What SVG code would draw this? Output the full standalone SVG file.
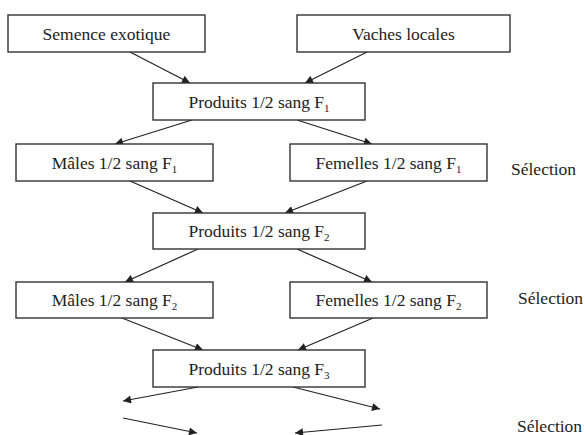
<svg xmlns="http://www.w3.org/2000/svg" width="585" height="435" viewBox="0 0 585 435">
<style>
.box{fill:#fff;stroke:#333;stroke-width:1.4}
.sub{font-size:11px}
.c line{stroke:#222;stroke-width:1.2;marker-end:url(#ah)}
</style>
<defs>
<marker id="ah" viewBox="0 0 10 10" refX="10" refY="5" markerWidth="10" markerHeight="8" markerUnits="userSpaceOnUse" orient="auto">
<path d="M0,0 L10,5 L0,10 Z" fill="#222"/>
</marker>
</defs>
<rect width="585" height="435" fill="#fff"/>
<g class="c">
<line x1="130" y1="52" x2="190" y2="83"/>
<line x1="367" y1="52" x2="305" y2="83"/>
<line x1="192" y1="120" x2="115" y2="144"/>
<line x1="297" y1="120" x2="372" y2="144"/>
<line x1="130" y1="181" x2="203" y2="213"/>
<line x1="367" y1="181" x2="285" y2="213"/>
<line x1="198" y1="249" x2="125" y2="282"/>
<line x1="297" y1="249" x2="372" y2="282"/>
<line x1="122" y1="318" x2="203" y2="350"/>
<line x1="373" y1="318" x2="298" y2="350"/>
<line x1="198" y1="387" x2="123" y2="401"/>
<line x1="293" y1="387" x2="380" y2="409"/>
<line x1="123" y1="418" x2="197" y2="433"/>
<line x1="382" y1="425" x2="295" y2="433"/>
</g>
<g font-family="Liberation Serif, Times New Roman, serif" font-size="17.5" fill="#222">
<g id="n1"><rect class="box" x="8" y="15" width="197" height="37"/><text text-anchor="middle" x="106.5" y="39.5">Semence exotique</text></g>
<g id="n2"><rect class="box" x="297" y="15" width="213" height="37"/><text text-anchor="middle" x="403.5" y="39.5">Vaches locales</text></g>
<g id="n3"><rect class="box" x="153" y="83" width="212" height="37"/><text text-anchor="middle" x="259" y="107.5">Produits 1/2 sang F<tspan class="sub" dy="4">1</tspan></text></g>
<g id="n4"><rect class="box" x="16" y="144" width="197" height="37"/><text text-anchor="middle" x="114.5" y="168.5">Mâles 1/2 sang F<tspan class="sub" dy="4">1</tspan></text></g>
<g id="n5"><rect class="box" x="290" y="144" width="197" height="37"/><text text-anchor="middle" x="388.5" y="168.5">Femelles 1/2 sang F<tspan class="sub" dy="4">1</tspan></text></g>
<g id="n6"><rect class="box" x="153" y="213" width="212" height="36"/><text text-anchor="middle" x="259" y="237">Produits 1/2 sang F<tspan class="sub" dy="4">2</tspan></text></g>
<g id="n7"><rect class="box" x="16" y="282" width="197" height="36"/><text text-anchor="middle" x="114.5" y="306">Mâles 1/2 sang F<tspan class="sub" dy="4">2</tspan></text></g>
<g id="n8"><rect class="box" x="290" y="282" width="197" height="36"/><text text-anchor="middle" x="388.5" y="306">Femelles 1/2 sang F<tspan class="sub" dy="4">2</tspan></text></g>
<g id="n9"><rect class="box" x="153" y="350" width="212" height="37"/><text text-anchor="middle" x="259" y="374.5">Produits 1/2 sang F<tspan class="sub" dy="4">3</tspan></text></g>
<text x="511" y="175">Sélection</text>
<text x="518" y="304">Sélection</text>
<text x="517" y="432">Sélection</text>
</g>
</svg>
